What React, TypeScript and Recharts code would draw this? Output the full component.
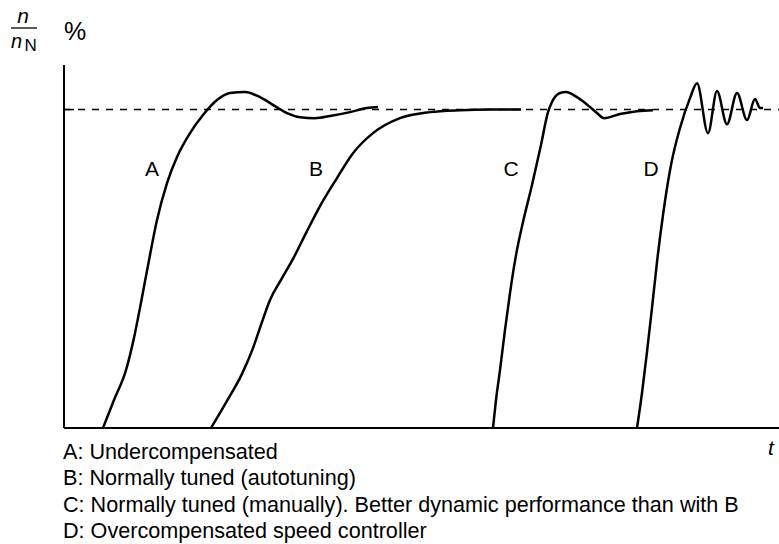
import React from 'react';
import { LineChart, Line, XAxis, YAxis, ReferenceLine, ReferenceDot } from 'recharts';

// time axis (arbitrary units) and speed n/nN in %
const timeA = [39, 50, 62, 69.5, 77.5, 85, 93, 103, 113, 126, 139, 153, 166, 181, 196, 211, 223, 236, 251, 266, 286, 303, 314];
const speedA = [0, 8.8, 18.2, 27.6, 40.2, 52.7, 65.3, 76.9, 85.1, 92.6, 98.3, 103.0, 105.2, 105.5, 103.9, 101.1, 98.9, 97.6, 97.3, 98.0, 99.2, 100.5, 100.8];

const timeB = [147, 163, 178, 189, 198, 206, 217, 229, 242, 256, 273, 289, 309, 336, 366, 396, 426, 457];
const speedB = [0, 8.5, 17.0, 25.1, 33.3, 40.2, 46.5, 53.1, 61.2, 69.7, 78.5, 86.3, 92.6, 97.3, 99.2, 99.8, 100, 100];

const timeC = [429, 432, 436, 441, 446, 452, 459, 468, 477, 484, 488, 496, 502, 513, 526, 533, 540, 556, 573, 589];
const speedC = [0, 8.8, 18.2, 30.8, 42.4, 54.3, 64.7, 76.3, 88.9, 99.2, 102.4, 105.2, 105.5, 103.9, 100.8, 98.9, 97.3, 98.6, 99.5, 99.8];

const timeD = [573, 578, 583, 588, 593, 599, 607, 616, 626, 633, 644, 653, 663, 673, 683, 691, 696, 699];
const speedD = [0, 11.0, 23.9, 37.7, 52.1, 66.9, 82.6, 94.2, 103.6, 108.3, 92.6, 105.8, 95.4, 105.2, 96.7, 103.3, 100.5, 100.5];

const curveNames = ['A', 'B', 'C', 'D'];
const labelTimes = [88, 252, 447, 587];
const labelSpeed = 81.6;

const legendLines = [
  'A: Undercompensated',
  'B: Normally tuned (autotuning)',
  'C: Normally tuned (manually). Better dynamic performance than with B',
  'D: Overcompensated speed controller',
];

const nominal = 100;

const zip = (ts: number[], vs: number[]) => ts.map((t, i) => ({ t, v: vs[i] }));
const series = [zip(timeA, speedA), zip(timeB, speedB), zip(timeC, speedC), zip(timeD, speedD)];

const FONT = '"Liberation Sans", Arial, Helvetica, sans-serif';

export default function App() {
  return (
    <div style={{ position: 'relative', width: 779, height: 544, background: '#fff' }}>
      <style>{'body{margin:0;overflow:hidden;background:#fff}'}</style>
      <LineChart
        width={779}
        height={544}
        margin={{ top: 65, right: 0, bottom: 115, left: 63 }}
      >
        <XAxis
          type="number"
          dataKey="t"
          domain={[0, 715]}
          height={1}
          tick={false}
          tickLine={false}
          axisLine={{ stroke: '#000', strokeWidth: 2 }}
        />
        <YAxis
          type="number"
          domain={[0, 114]}
          width={1}
          ticks={[nominal]}
          tick={false}
          tickSize={9}
          tickLine={{ stroke: '#000', strokeWidth: 1.5 }}
          axisLine={{ stroke: '#000', strokeWidth: 2 }}
        />
        <ReferenceLine y={nominal} stroke="#000" strokeWidth={1.5} strokeDasharray="7 7" />
        <ReferenceLine
          segment={[{ x: 0, y: nominal }, { x: 10, y: nominal }]}
          stroke="#000"
          strokeWidth={1.5}
        />
        {series.map((d, i) => (
          <Line
            key={curveNames[i]}
            data={d}
            dataKey="v"
            type="monotone"
            stroke="#000"
            strokeWidth={2.5}
            dot={false}
            activeDot={false}
            isAnimationActive={false}
          />
        ))}
        {curveNames.map((name, i) => (
          <ReferenceDot
            key={'lbl' + name}
            x={labelTimes[i]}
            y={labelSpeed}
            r={0}
            fill="none"
            stroke="none"
            label={{ value: name, position: 'center', fontSize: 21, fill: '#000', fontFamily: FONT }}
          />
        ))}
      </LineChart>
      <svg
        width={779}
        height={544}
        style={{ position: 'absolute', left: 0, top: 0, pointerEvents: 'none' }}
      >
        <g fontFamily={FONT} fill="#000">
          <text x={23} y={23} fontSize={21} fontStyle="italic" textAnchor="middle">n</text>
          <line x1={11} x2={37} y1={28} y2={28} stroke="#000" strokeWidth={1.3} />
          <text x={11} y={47.5} fontSize={20} fontStyle="italic">n</text>
          <text x={24.5} y={51} fontSize={17}>N</text>
          <text x={64} y={40} fontSize={25}>%</text>
          <text x={768} y={455} fontSize={21} fontStyle="italic">t</text>
          {legendLines.map((s, i) => (
            <text key={i} x={63} y={459 + i * 26.4} fontSize={21.6}>{s}</text>
          ))}
        </g>
      </svg>
    </div>
  );
}
